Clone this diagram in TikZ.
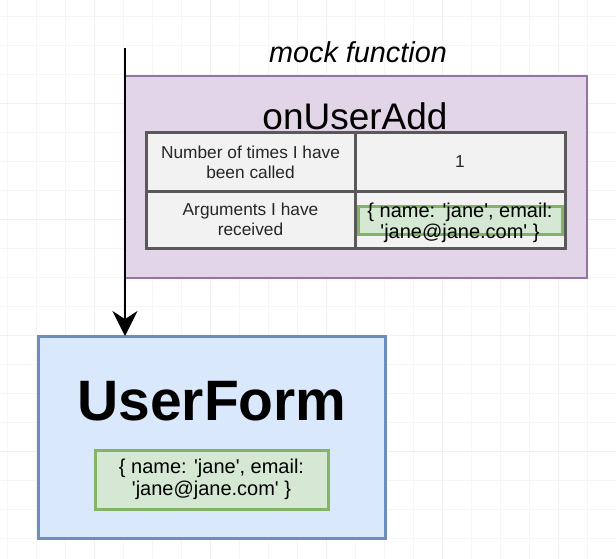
\documentclass[tikz,border=0pt]{standalone}
\usepackage{fontspec}
\setmainfont{Liberation Sans}[Ligatures=TeXOff]
\usetikzlibrary{arrows.meta, positioning}

\definecolor{mockfill}{HTML}{E1D5E7}
\definecolor{mockline}{HTML}{9673A6}
\definecolor{formfill}{HTML}{DAE8FC}
\definecolor{formline}{HTML}{6C8EBF}
\definecolor{argfill}{HTML}{D5E8D4}
\definecolor{argline}{HTML}{82B366}
\definecolor{cellfill}{HTML}{F2F2F2}
\definecolor{cellline}{HTML}{595959}
\newcommand{\fs}[2]{\fontsize{#1}{#2}\selectfont}

\begin{document}
\begin{tikzpicture}[
        x=1pt, y=-1pt,
        box/.style={rectangle, draw, line width=2.5pt, inner sep=0pt, outer sep=0pt},
        cell/.style={rectangle, draw=cellline, fill=cellfill, line width=3pt, minimum height=58pt, align=center, font=\fs{17.3}{20}, text=black!85, inner sep=0pt, outer sep=0pt},
        argbox/.style={rectangle, draw=argline, fill=argfill, line width=3pt, inner sep=0pt},
        arr/.style={-{Stealth[length=25pt, width=25pt]}, line width=2pt},
        grid line/.style={draw=black!4, line width=0.6pt},
        node distance=0pt,
    ]
        \useasboundingbox (0,0) rectangle (616,559);
        \fill[white] (0,0) rectangle (616,559);
        % faint grid
        \foreach \gx in {7,36,...,616} \draw[grid line] (\gx,0) -- (\gx,559);
        \foreach \gy in {16,45,...,559} \draw[grid line] (0,\gy) -- (616,\gy);
        \foreach \gx in {94,210,...,616} \draw[grid line, draw=black!6] (\gx,0) -- (\gx,559);
        \foreach \gy in {103,219,...,559} \draw[grid line, draw=black!6] (0,\gy) -- (616,\gy);

        % mock function
        \node[font=\itshape\fs{28.8}{32}] (mocklbl) at (358,52) {mock function};
        \node[box, draw=mockline, fill=mockfill, minimum width=462pt, minimum height=202pt] (mock) at (356,177) {};
        \node[font=\fs{37}{42}] (title) at (355,116) {onUserAdd};

        \node[cell, minimum width=209pt] (calls) at (250.5,162) {Number of times I have\\been called};
        \node[cell, minimum width=210pt, right=of calls] (count) {1};
        \node[cell, minimum width=209pt, minimum height=57pt, below=of calls] (args) {Arguments I have\\received};
        \node[cell, minimum width=210pt, minimum height=57pt, right=of args] (argval) {};
        \node[argbox, minimum width=204pt, minimum height=28pt] (callargs) at (460,220) {};
        \node[align=center, font=\fs{20}{21}] (callargstxt) at (460,223) {\{ name: 'jane', email:\\'jane@jane.com' \}};

        % user form
        \node[box, draw=formline, fill=formfill, line width=3pt, minimum width=347pt, minimum height=202pt] (form) at (211.5,437) {};
        \node[font=\bfseries\fs{57}{60}] (formtitle) at (212,401) {UserForm};
        \node[argbox, minimum width=233pt, minimum height=59pt, align=center, font=\fs{20}{22}] (formargs) at (211.5,479.5) {\{ name: 'jane', email:\\'jane@jane.com' \}};

        \coordinate (start) at (125,48);
        \draw[arr] (start) -- (start |- form.north);
    \end{tikzpicture}
\end{document}
